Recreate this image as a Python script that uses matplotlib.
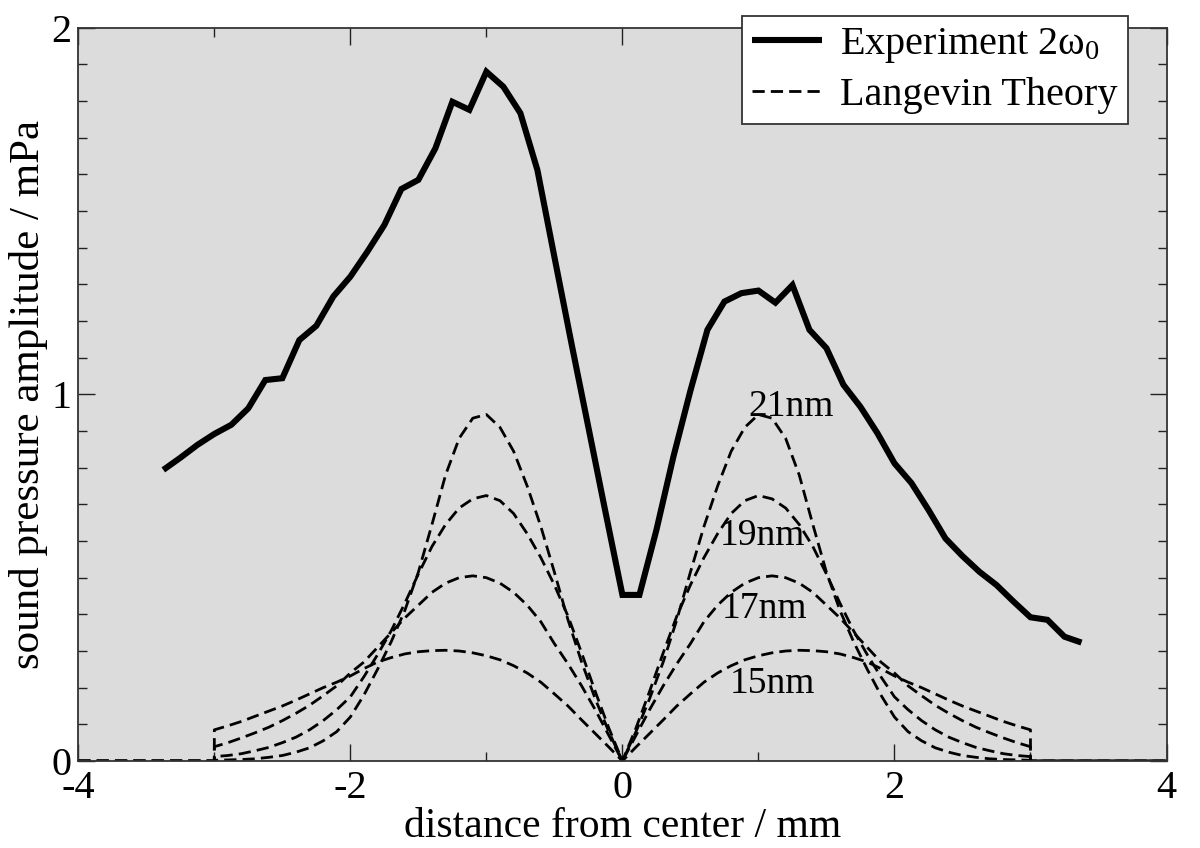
import matplotlib
matplotlib.use('Agg')
import matplotlib.pyplot as plt
from matplotlib.ticker import MultipleLocator, FixedLocator

plt.rcParams['font.family'] = ['Liberation Serif', 'DejaVu Serif']
plt.rcParams['mathtext.fontset'] = 'custom'
plt.rcParams['mathtext.rm'] = 'Liberation Serif'
plt.rcParams['mathtext.it'] = 'Liberation Serif:italic'
plt.rcParams['axes.unicode_minus'] = False

# ---- Experiment (2 omega_0) ----
x_exp = [-3.375, -3.25, -3.125, -3.0, -2.875, -2.75, -2.625, -2.5, -2.375, -2.25,
         -2.125, -2.0, -1.875, -1.75, -1.625, -1.5, -1.375, -1.25, -1.125, -1.0,
         -0.875, -0.75, -0.625, -0.5, -0.375, -0.25, -0.125, 0.0, 0.125, 0.25,
         0.375, 0.5, 0.625, 0.75, 0.875, 1.0, 1.125, 1.25, 1.375, 1.5,
         1.625, 1.75, 1.875, 2.0, 2.125, 2.25, 2.375, 2.5, 2.625, 2.75,
         2.875, 3.0, 3.125, 3.25, 3.375]
y_exp = [0.794, 0.827, 0.862, 0.892, 0.917, 0.962, 1.039, 1.044, 1.148, 1.187,
         1.267, 1.321, 1.389, 1.462, 1.560, 1.585, 1.671, 1.798, 1.776, 1.880,
         1.839, 1.767, 1.612, 1.375, 1.140, 0.910, 0.680, 0.453, 0.453, 0.630,
         0.830, 1.010, 1.176, 1.253, 1.276, 1.283, 1.250, 1.298, 1.176, 1.126,
         1.026, 0.966, 0.894, 0.812, 0.758, 0.685, 0.607, 0.559, 0.516, 0.480,
         0.435, 0.392, 0.385, 0.339, 0.323]

# ---- Langevin theory curves ----
x_th = [-4.0, -3.0,
        -3.0, -2.9, -2.8, -2.7, -2.6, -2.5, -2.4, -2.3, -2.2, -2.1,
        -2.0, -1.9, -1.8, -1.7, -1.6, -1.5, -1.4, -1.3, -1.2, -1.1,
        -1.0, -0.9, -0.8, -0.7, -0.6, -0.5, -0.4, -0.3, -0.2, -0.1,
        0.0, 0.1, 0.2, 0.3, 0.4, 0.5, 0.6, 0.7, 0.8, 0.9,
        1.0, 1.1, 1.2, 1.3, 1.4, 1.5, 1.6, 1.7, 1.8, 1.9,
        2.0, 2.1, 2.2, 2.3, 2.4, 2.5, 2.6, 2.7, 2.8, 2.9, 3.0,
        3.0, 4.0]

y_21nm = [0, 0,
          0.002, 0.003, 0.004, 0.006, 0.010, 0.015, 0.024, 0.036, 0.055, 0.080,
          0.120, 0.180, 0.250, 0.325, 0.410, 0.515, 0.645, 0.780, 0.880, 0.935,
          0.945, 0.910, 0.845, 0.750, 0.640, 0.515, 0.385, 0.270, 0.170, 0.080,
          0.000, 0.080, 0.170, 0.270, 0.385, 0.515, 0.640, 0.750, 0.845, 0.910,
          0.945, 0.935, 0.880, 0.780, 0.645, 0.515, 0.410, 0.325, 0.250, 0.180,
          0.120, 0.080, 0.055, 0.036, 0.024, 0.015, 0.010, 0.006, 0.004, 0.003, 0.002,
          0, 0]
y_19nm = [0, 0,
          0.012, 0.015, 0.020, 0.028, 0.037, 0.050, 0.065, 0.085, 0.110, 0.140,
          0.175, 0.230, 0.290, 0.355, 0.430, 0.510, 0.585, 0.645, 0.690, 0.715,
          0.724, 0.710, 0.675, 0.620, 0.555, 0.480, 0.395, 0.295, 0.190, 0.090,
          0.000, 0.090, 0.190, 0.295, 0.395, 0.480, 0.555, 0.620, 0.675, 0.710,
          0.724, 0.715, 0.690, 0.645, 0.585, 0.510, 0.430, 0.355, 0.290, 0.230,
          0.175, 0.140, 0.110, 0.085, 0.065, 0.050, 0.037, 0.028, 0.020, 0.015, 0.012,
          0, 0]
y_17nm = [0, 0,
          0.039, 0.050, 0.063, 0.077, 0.092, 0.110, 0.130, 0.152, 0.178, 0.205,
          0.240, 0.270, 0.310, 0.350, 0.390, 0.425, 0.460, 0.485, 0.500, 0.505,
          0.500, 0.485, 0.460, 0.425, 0.380, 0.320, 0.265, 0.205, 0.140, 0.070,
          0.000, 0.070, 0.140, 0.205, 0.265, 0.320, 0.380, 0.425, 0.460, 0.485,
          0.500, 0.505, 0.500, 0.485, 0.460, 0.425, 0.390, 0.350, 0.310, 0.270,
          0.240, 0.205, 0.178, 0.152, 0.130, 0.110, 0.092, 0.077, 0.063, 0.050, 0.039,
          0, 0]
y_15nm = [0, 0,
          0.085, 0.096, 0.108, 0.122, 0.136, 0.150, 0.166, 0.183, 0.200, 0.215,
          0.232, 0.252, 0.270, 0.282, 0.292, 0.298, 0.301, 0.302, 0.300, 0.295,
          0.287, 0.276, 0.260, 0.240, 0.215, 0.183, 0.150, 0.112, 0.075, 0.038,
          0.000, 0.038, 0.075, 0.112, 0.150, 0.183, 0.215, 0.240, 0.260, 0.276,
          0.287, 0.295, 0.300, 0.302, 0.301, 0.298, 0.292, 0.282, 0.270, 0.252,
          0.232, 0.215, 0.200, 0.183, 0.166, 0.150, 0.136, 0.122, 0.108, 0.096, 0.085,
          0, 0]

theory_curves = [y_21nm, y_19nm, y_17nm, y_15nm]
curve_labels = ['21nm', '19nm', '17nm', '15nm']
label_pos = [(1.243, 0.941), (1.033, 0.589), (1.042, 0.389), (1.107, 0.186)]

x_ticks = [-4, -2, 0, 2, 4]
y_ticks = [0, 1, 2]

W, H = 1200, 848
fig = plt.figure(figsize=(W / 100, H / 100), dpi=100)
left, right, top, bottom = 78.3, 1166.5, 27.7, 761.0
ax = fig.add_axes([left / W, 1 - bottom / H, (right - left) / W, (bottom - top) / H])
ax.set_facecolor('#dcdcdc')

ax.plot(x_exp, y_exp, color='black', lw=4.4, solid_joinstyle='miter',
        solid_capstyle='butt', label='Experiment 2ω$_0$', zorder=3)
for i, yy in enumerate(theory_curves):
    ax.plot(x_th, yy, color='black', lw=2.0, dashes=(4.4, 2.2),
            label='Langevin Theory' if i == 0 else None, zorder=2)

for txt, (tx, ty) in zip(curve_labels, label_pos):
    ax.text(tx, ty, txt, ha='center', va='baseline', fontsize=27, zorder=4)

ax.set_xlim(-4, 4)
ax.set_ylim(0, 2)
ax.xaxis.set_major_locator(FixedLocator(x_ticks))
ax.xaxis.set_minor_locator(MultipleLocator(1))
ax.yaxis.set_major_locator(FixedLocator(y_ticks))
ax.yaxis.set_minor_locator(MultipleLocator(0.1))
ax.tick_params(which='both', direction='in', top=True, right=True,
               labelsize=29, width=1.0, color='#222222')
ax.tick_params(axis='x', which='major', length=12, pad=6.5)
ax.tick_params(axis='y', which='major', length=12, pad=5)
ax.tick_params(which='minor', length=6.5)
for s in ax.spines.values():
    s.set_linewidth(1.3)
    s.set_color('#333333')

ax.set_xlabel('distance from center / mm', fontsize=30, labelpad=0)
ax.set_ylabel('sound pressure amplitude / mPa', fontsize=31, labelpad=2)

leg = ax.legend(loc='upper right', bbox_to_anchor=(1128 / W, 1 - 15.7 / H),
                bbox_transform=fig.transFigure, fontsize=29, frameon=True,
                fancybox=False, borderaxespad=0, handlelength=1.75,
                handletextpad=0.45, labelspacing=0.3, borderpad=0.25)
leg.get_frame().set_edgecolor('#333333')
leg.get_frame().set_linewidth(1.3)
leg.get_frame().set_facecolor('white')
leg.get_frame().set_alpha(1)
leg.set_zorder(10)

fig.savefig('out.png', dpi=100)
